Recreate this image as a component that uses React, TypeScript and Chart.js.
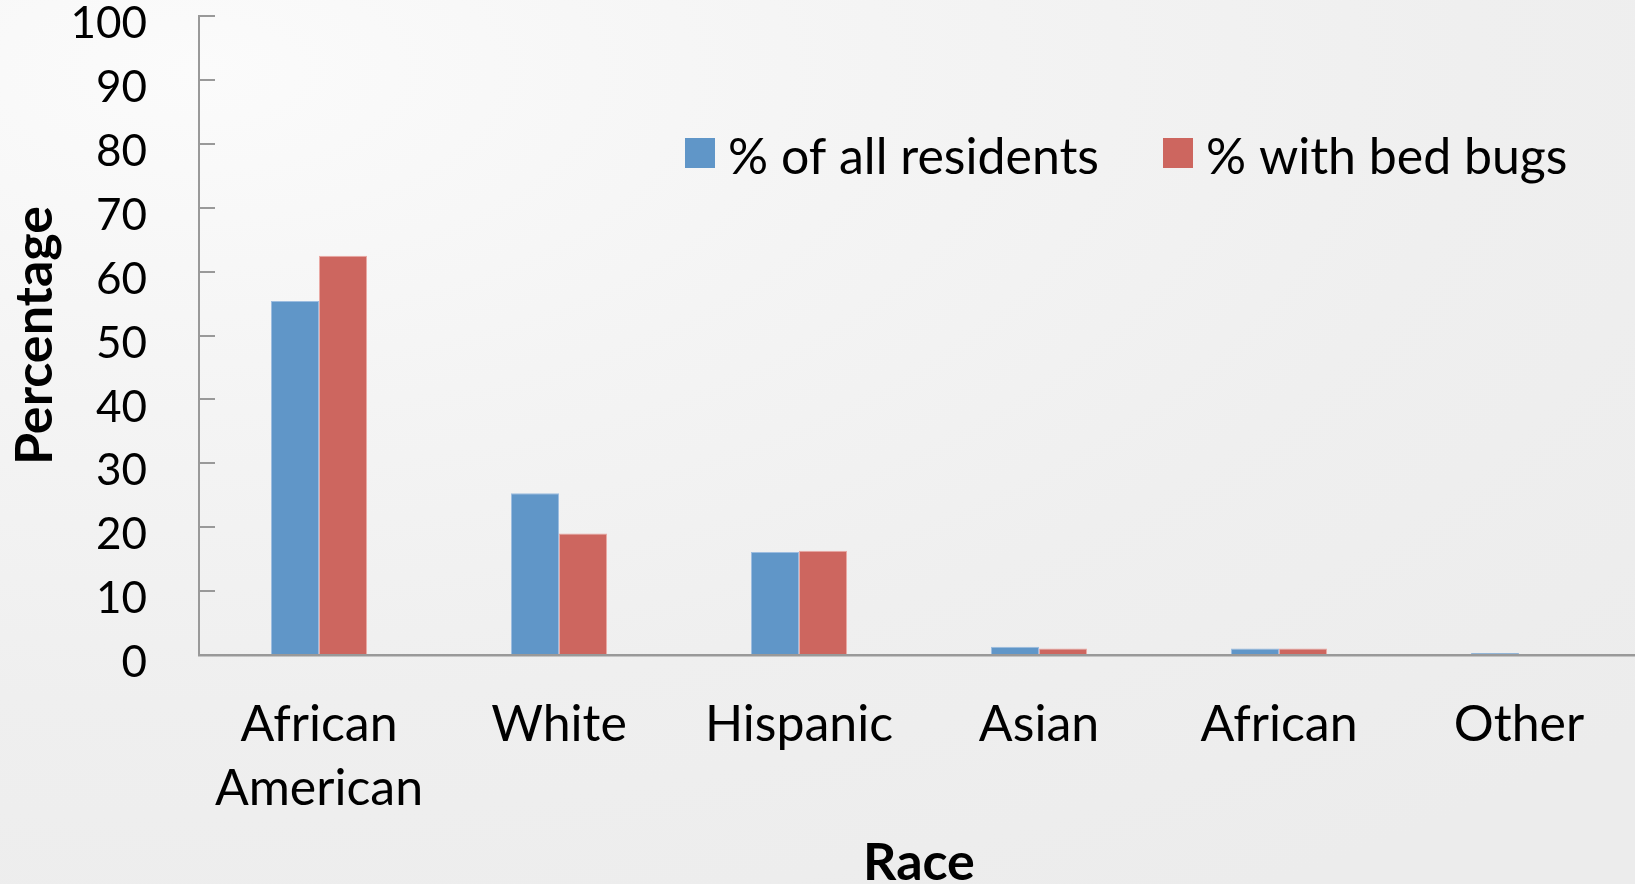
import { useEffect, useRef } from "react";
import { Chart, registerables } from "chart.js";

Chart.register(...registerables);

// Race categories along the x axis
const categories: (string | string[])[] = [
  ["African", "American"],
  "White",
  "Hispanic",
  "Asian",
  "African",
  "Other",
];

const seriesNames = ["% of all residents", "% with bed bugs"];

// Percentage of all residents per group
const allResidents = [55.4, 25.3, 16.1, 1.3, 1.0, 0.3];
// Percentage of residents reporting bed bugs per group
const withBedBugs = [62.5, 19.0, 16.3, 1.0, 1.0, 0];

const yMin = 0;
const yMax = 100;
const yStep = 10;

const FONT = "Lato, 'Open Sans', 'Noto Sans', sans-serif";
const BLUE = "#6096c8";
const BLUE_EDGE = "#9dbde0";
const RED = "#cd665f";
const RED_EDGE = "#eaa9a4";
const AXIS = "#999999";

// Legend drawn inside the plot area, to the upper right
const insideLegend = {
  id: "insideLegend",
  afterDraw(chart: any) {
    const ctx = chart.ctx as CanvasRenderingContext2D;
    ctx.save();
    ctx.font = `50px ${FONT}`;
    ctx.textBaseline = "alphabetic";
    ctx.textAlign = "left";
    const box = 30;
    const baseline = 174;
    let x = 685;
    chart.data.datasets.forEach((ds: any) => {
      ctx.fillStyle = ds.backgroundColor;
      ctx.fillRect(x, 138, box, box);
      x += box + 13;
      ctx.fillStyle = "#000";
      ctx.fillText(ds.label, x, baseline);
      x += ctx.measureText(ds.label).width + 64;
    });
    ctx.restore();
  },
};

export default function App() {
  const canvasRef = useRef<HTMLCanvasElement | null>(null);

  useEffect(() => {
    if (!canvasRef.current) return;
    Chart.defaults.font.family = FONT;
    const chart = new Chart(canvasRef.current, {
      type: "bar",
      data: {
        labels: categories,
        datasets: [
          {
            label: seriesNames[0],
            data: allResidents,
            backgroundColor: BLUE,
            borderColor: BLUE_EDGE,
            borderWidth: 1,
            categoryPercentage: 0.4,
            barPercentage: 1.0,
          },
          {
            label: seriesNames[1],
            data: withBedBugs,
            backgroundColor: RED,
            borderColor: RED_EDGE,
            borderWidth: 1,
            categoryPercentage: 0.4,
            barPercentage: 1.0,
          },
        ],
      },
      options: {
        responsive: false,
        animation: false,
        devicePixelRatio: 1,
        layout: { padding: { top: 16, left: 0, right: 1, bottom: 0 } },
        plugins: {
          legend: { display: false },
          tooltip: { enabled: false },
        },
        scales: {
          x: {
            grid: { drawOnChartArea: false, drawTicks: false },
            border: { color: AXIS, width: 2.5 },
            ticks: {
              color: "#000",
              font: { family: FONT, size: 50, lineHeight: "64px" },
              padding: 38,
              maxRotation: 0,
              autoSkip: false,
            },
            title: {
              display: true,
              text: "Race",
              color: "#000",
              font: { family: FONT, size: 52, weight: "bold", lineHeight: "40px" },
              padding: { top: 0, bottom: 1 },
            },
            afterFit: (s: any) => {
              s.height = 229;
              s.paddingLeft = 0;
              s.paddingRight = 0;
            },
          },
          y: {
            min: yMin,
            max: yMax,
            grid: {
              drawOnChartArea: false,
              drawTicks: true,
              tickLength: -16,
              color: AXIS,
              lineWidth: 2,
            },
            border: { color: AXIS, width: 2 },
            ticks: {
              stepSize: yStep,
              color: "#000",
              font: { family: FONT, size: 44, lineHeight: "24px" },
              padding: 68,
              labelOffset: 8,
            },
            title: {
              display: true,
              text: "Percentage",
              color: "#000",
              font: { family: FONT, size: 52, weight: "bold", lineHeight: "40px" },
              padding: { top: 15, bottom: 0 },
            },
            afterFit: (s: any) => {
              s.width = 199;
              s.paddingTop = 0;
              s.paddingBottom = 0;
            },
          },
        },
      },
      plugins: [insideLegend],
    });
    return () => chart.destroy();
  }, []);

  return (
    <div
      style={{
        position: "fixed",
        left: 0,
        top: 0,
        width: 1635,
        height: 884,
        overflow: "hidden",
        background:
          "radial-gradient(ellipse 120% 110% at 12% 8%, #fbfbfb 0%, #f4f4f4 35%, #efefef 65%, #ececec 100%)",
      }}
    >
      <canvas
        ref={canvasRef}
        width={1640}
        height={884}
        style={{ display: "block", width: 1640, height: 884 }}
      />
    </div>
  );
}
